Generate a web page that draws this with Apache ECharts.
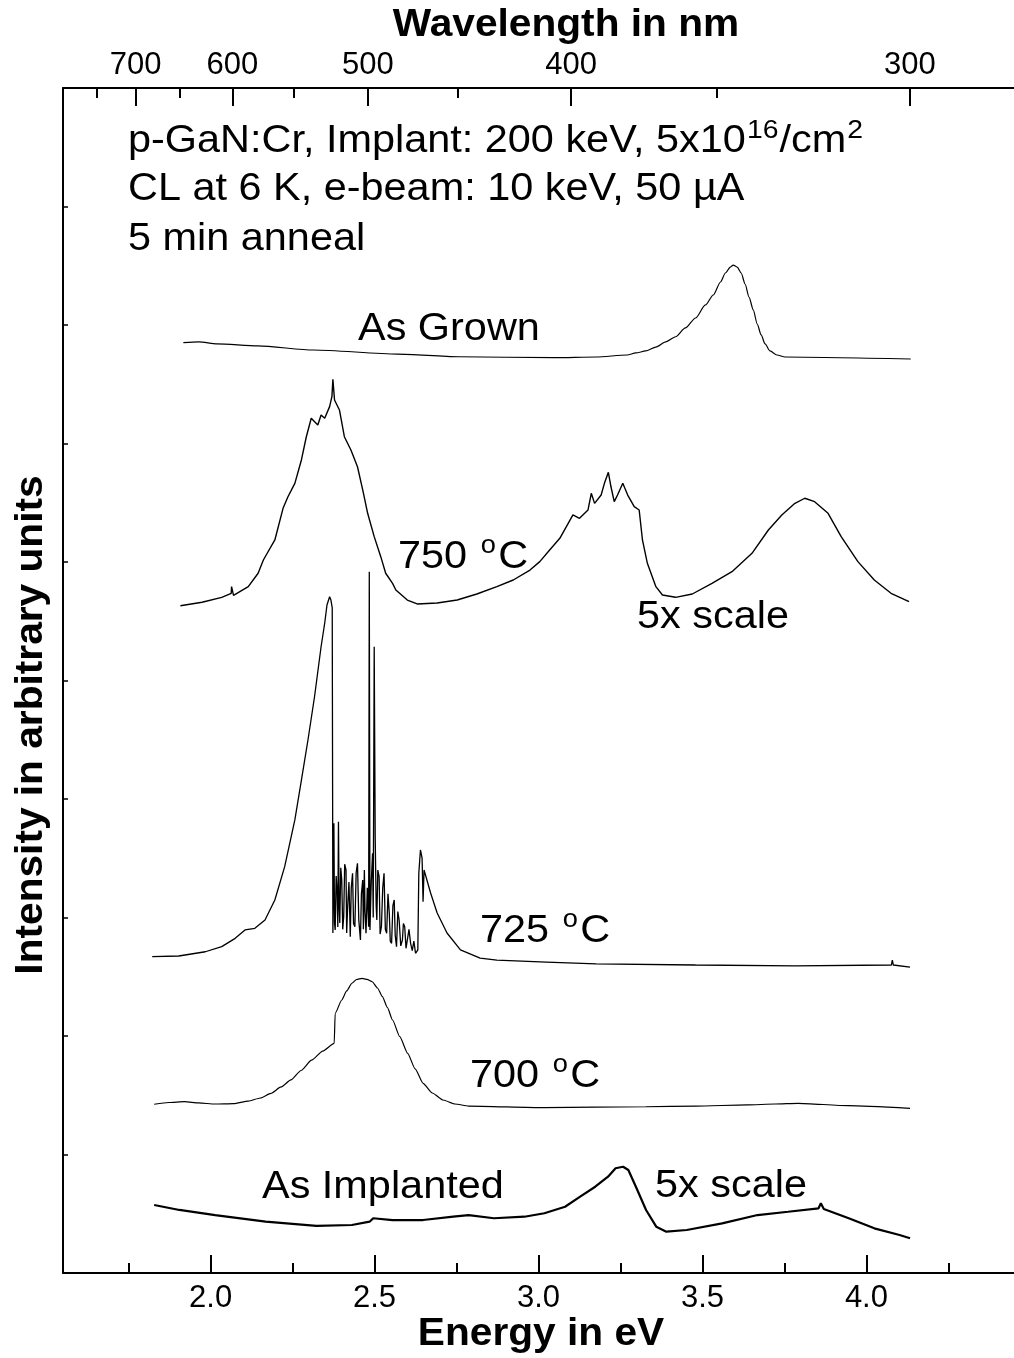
<!DOCTYPE html>
<html>
<head>
<meta charset="utf-8">
<script src="https://cdn.jsdelivr.net/npm/echarts@6/dist/echarts.min.js"></script>
<style>
html,body{margin:0;padding:0;background:#fff;}
#c{width:1014px;height:1358px;}
</style>
</head>
<body>
<div id="c"></div>
<script>
// ---- tick labels ----
const energyMajor = [2.0, 2.5, 3.0, 3.5, 4.0];
const energyMinor = [1.75, 2.25, 2.75, 3.25, 3.75, 4.25];
const wavelengthMajor = [700, 600, 500, 400, 300];
const wavelengthMinor = [750, 650, 550, 450, 350];

// ---- series: [energy eV, intensity (arb. units)] ----
const asGrown = [[1.917,7.851],[1.964,7.857],[2.020,7.840],[2.145,7.823],[2.314,7.789],[2.570,7.755],[2.755,7.732],[3.048,7.724],[3.176,7.730],[3.270,7.747],[3.297,7.764],[3.327,7.781],[3.358,7.814],[3.388,7.857],[3.418,7.901],[3.448,7.975],[3.479,8.059],[3.509,8.169],[3.533,8.253],[3.555,8.363],[3.570,8.439],[3.585,8.489],[3.594,8.506],[3.606,8.489],[3.618,8.439],[3.630,8.346],[3.642,8.236],[3.655,8.127],[3.667,8.008],[3.679,7.916],[3.691,7.840],[3.706,7.781],[3.727,7.747],[3.752,7.730],[4.135,7.713]];

const anneal750 = [[1.908,5.631],[1.974,5.660],[2.034,5.702],[2.063,5.736],[2.064,5.792],[2.070,5.719],[2.115,5.792],[2.145,5.905],[2.161,6.017],[2.196,6.186],[2.221,6.453],[2.236,6.551],[2.257,6.664],[2.277,6.861],[2.292,7.057],[2.307,7.213],[2.327,7.156],[2.337,7.241],[2.348,7.213],[2.363,7.311],[2.370,7.395],[2.373,7.542],[2.378,7.367],[2.393,7.283],[2.408,7.057],[2.428,6.945],[2.448,6.804],[2.464,6.608],[2.479,6.411],[2.499,6.214],[2.519,6.045],[2.534,5.905],[2.555,5.820],[2.565,5.764],[2.600,5.679],[2.630,5.646],[2.691,5.654],[2.752,5.679],[2.812,5.730],[2.873,5.792],[2.923,5.848],[2.974,5.932],[3.004,6.003],[3.034,6.101],[3.065,6.200],[3.105,6.397],[3.125,6.369],[3.151,6.439],[3.161,6.580],[3.171,6.495],[3.191,6.565],[3.201,6.664],[3.213,6.757],[3.221,6.635],[3.231,6.509],[3.241,6.565],[3.257,6.664],[3.272,6.565],[3.292,6.467],[3.307,6.439],[3.317,6.186],[3.332,5.989],[3.358,5.792],[3.378,5.722],[3.418,5.702],[3.469,5.730],[3.529,5.820],[3.590,5.918],[3.651,6.073],[3.701,6.270],[3.742,6.397],[3.782,6.495],[3.812,6.538],[3.842,6.509],[3.883,6.411],[3.923,6.214],[3.974,6.003],[4.024,5.848],[4.075,5.736],[4.130,5.665]];

const anneal725 = [[1.822,2.669],[1.903,2.675],[1.984,2.711],[2.034,2.754],[2.075,2.824],[2.105,2.895],[2.135,2.909],[2.166,2.979],[2.196,3.148],[2.226,3.429],[2.257,3.823],[2.277,4.160],[2.297,4.498],[2.317,4.863],[2.337,5.285],[2.348,5.483],[2.355,5.637],[2.363,5.707],[2.367,5.679],[2.371,5.612],
[2.373,2.869],[2.376,3.795],[2.378,2.950],[2.380,2.895],[2.383,3.350],[2.386,3.207],[2.388,2.920],[2.390,3.808],[2.392,3.100],[2.394,2.954],[2.397,3.420],[2.400,3.316],[2.403,2.900],[2.406,3.007],[2.409,3.450],[2.413,3.401],[2.415,2.870],[2.418,3.091],[2.422,3.300],[2.426,2.838],[2.429,3.250],[2.433,3.373],[2.436,2.950],[2.440,2.922],[2.444,3.380],[2.448,3.457],[2.452,2.980],[2.457,2.810],[2.460,3.200],[2.464,3.316],[2.466,2.900],[2.469,3.401],[2.471,3.050],[2.474,2.867],[2.478,3.250],[2.482,2.922],[2.484,5.918],[2.486,2.895],[2.490,3.300],[2.494,3.542],[2.496,3.000],[2.499,5.285],[2.502,3.682],[2.505,3.100],[2.507,2.979],[2.510,3.400],[2.514,3.344],[2.517,2.860],[2.521,2.922],[2.525,3.250],[2.529,3.373],[2.533,2.900],[2.537,2.867],[2.541,3.200],[2.545,3.035],[2.548,2.800],[2.552,2.782],[2.556,3.100],[2.560,3.148],[2.563,2.850],[2.567,2.754],[2.571,3.050],[2.575,2.979],[2.580,2.760],[2.585,2.810],[2.588,2.950],[2.592,2.922],[2.596,2.740],[2.600,2.754],[2.605,2.900],[2.610,2.782],[2.615,2.720],[2.620,2.800],[2.625,2.698],[2.632,2.726],
[2.635,3.373],[2.640,3.570],[2.645,3.502],[2.648,3.133],[2.651,3.401],[2.671,3.207],[2.691,3.038],[2.721,2.869],[2.762,2.726],[2.822,2.658],[2.873,2.641],[3.024,2.624],[3.176,2.608],[3.479,2.599],[3.782,2.591],[4.076,2.599],[4.079,2.641],[4.082,2.599],[4.133,2.582]];

const anneal700 = [[1.828,1.424],[1.873,1.439],[1.921,1.446],[1.964,1.435],[2.014,1.426],[2.070,1.430],[2.115,1.451],[2.152,1.477],[2.184,1.516],[2.215,1.570],[2.245,1.629],[2.276,1.709],[2.308,1.797],[2.342,1.873],[2.377,1.938],[2.380,2.192],[2.400,2.304],[2.415,2.380],[2.431,2.445],[2.445,2.477],[2.462,2.487],[2.477,2.478],[2.493,2.458],[2.509,2.405],[2.524,2.332],[2.539,2.241],[2.555,2.135],[2.577,1.994],[2.601,1.854],[2.624,1.722],[2.648,1.601],[2.676,1.519],[2.709,1.460],[2.745,1.426],[2.787,1.409],[3.018,1.395],[3.327,1.403],[3.479,1.409],[3.636,1.418],[3.721,1.426],[3.791,1.432],[3.945,1.412],[4.133,1.390]];

const asImplanted = [[1.828,0.574],[1.905,0.532],[2.014,0.489],[2.168,0.433],[2.323,0.397],[2.431,0.405],[2.485,0.433],[2.496,0.462],[2.555,0.447],[2.648,0.447],[2.740,0.475],[2.787,0.489],[2.864,0.462],[2.957,0.475],[3.018,0.504],[3.081,0.559],[3.127,0.644],[3.173,0.728],[3.212,0.813],[3.235,0.884],[3.258,0.897],[3.274,0.869],[3.297,0.728],[3.328,0.532],[3.359,0.391],[3.390,0.349],[3.452,0.363],[3.560,0.419],[3.668,0.489],[3.761,0.517],[3.854,0.546],[3.861,0.588],[3.870,0.540],[3.946,0.462],[4.024,0.377],[4.101,0.321],[4.133,0.293]];

const HC = 1239.84;
const FONT = '"Liberation Sans", Arial, Helvetica, sans-serif';
const X_MIN = 1.55, X_MAX = 4.45;

const chart = echarts.init(document.getElementById('c'), null, {renderer: 'canvas'});

function lineSeries(data, w, smooth) {
  return {
    type: 'line', data: data, showSymbol: false, symbol: 'none',
    smooth: smooth || false, smoothMonotone: 'x',
    lineStyle: {color: '#000', width: w}, xAxisIndex: 0, yAxisIndex: 0,
    silent: true, animation: false
  };
}

const annFont = 38, supFont = 26, SX = 1.09;
function richText(x, y, text) {
  return {
    type: 'text', x: x, y: y, scaleX: SX, silent: true,
    style: {
      text: text, textVerticalAlign: 'middle', textAlign: 'left',
      fill: '#000',
      rich: {
        m: {fontSize: annFont, fontFamily: FONT, lineHeight: 48, fill: '#000'},
        s: {fontSize: supFont, fontFamily: FONT, lineHeight: 26, verticalAlign: 'top', fill: '#000', padding: [0, 1, 0, 1]},
        o: {fontSize: 25, fontFamily: FONT, lineHeight: 1, verticalAlign: 'top', fill: '#000', padding: [0, 2, 0, 2]}
      }
    }
  };
}
function title(x, y, text, rot) {
  return {type: 'text', x: x, y: y, rotation: rot || 0, scaleX: 1.07, silent: true,
    style: {text: text, font: 'bold 38px ' + FONT, textAlign: 'center', textVerticalAlign: 'middle', fill: '#000'}};
}

const option = {
  animation: false,
  backgroundColor: '#fff',
  grid: {left: 63, top: 88, width: (X_MAX - X_MIN) * 330, height: 1185, containLabel: false},
  xAxis: [
    {
      type: 'value', position: 'bottom', min: X_MIN, max: X_MAX,
      axisLine: {show: true, lineStyle: {color: '#000', width: 2}},
      axisTick: {show: true, inside: true, length: 18, lineStyle: {color: '#000', width: 2}, customValues: energyMajor},
      axisLabel: {show: true, customValues: energyMajor, margin: 10, fontSize: 31, fontFamily: FONT, color: '#000',
        formatter: v => v.toFixed(1)},
      splitLine: {show: false}
    },
    {
      type: 'value', position: 'bottom', min: X_MIN, max: X_MAX,
      axisLine: {show: false},
      axisTick: {show: true, inside: true, length: 10, lineStyle: {color: '#000', width: 2}, customValues: energyMinor},
      axisLabel: {show: false}, splitLine: {show: false}
    },
    {
      type: 'value', position: 'top', min: X_MIN, max: X_MAX,
      axisLine: {show: true, lineStyle: {color: '#000', width: 2}},
      axisTick: {show: true, inside: true, length: 18, lineStyle: {color: '#000', width: 2},
        customValues: wavelengthMajor.map(l => HC / l)},
      axisLabel: {show: true, customValues: wavelengthMajor.map(l => HC / l), margin: 7, fontSize: 31, fontFamily: FONT, color: '#000',
        formatter: v => String(Math.round(HC / v))},
      splitLine: {show: false}
    },
    {
      type: 'value', position: 'top', min: X_MIN, max: X_MAX,
      axisLine: {show: false},
      axisTick: {show: true, inside: true, length: 10, lineStyle: {color: '#000', width: 2},
        customValues: wavelengthMinor.map(l => HC / l)},
      axisLabel: {show: false}, splitLine: {show: false}
    }
  ],
  yAxis: [{
    type: 'value', min: 0, max: 10, interval: 1,
    axisLine: {show: true, lineStyle: {color: '#000', width: 2}},
    axisTick: {show: true, inside: true, length: 5, lineStyle: {color: '#000', width: 1.5}},
    axisLabel: {show: false}, splitLine: {show: false}
  }],
  series: [
    lineSeries(asGrown, 1.2, 0.25),
    lineSeries(anneal750, 1.4, false),
    lineSeries(anneal725, 1.3, false),
    lineSeries(anneal700, 1.2, 0.2),
    lineSeries(asImplanted, 2.2, false)
  ],
  graphic: [
    title(566, 26, 'Wavelength in nm'),
    title(541, 1335, 'Energy in eV'),
    title(32, 725, 'Intensity in arbitrary units', Math.PI / 2),
    richText(128, 142, '{m|p-GaN:Cr, Implant: 200 keV, 5x10}{s|16}{m|/cm}{s|2}'),
    richText(128, 190, '{m|CL at 6 K, e-beam: 10 keV, 50 µA}'),
    richText(128, 240, '{m|5 min anneal}'),
    richText(358, 330, '{m|As Grown}'),
    richText(398, 558, '{m|750 }{o|o}{m|C}'),
    richText(637, 618, '{m|5x scale}'),
    richText(480, 932, '{m|725 }{o|o}{m|C}'),
    richText(470, 1077, '{m|700 }{o|o}{m|C}'),
    richText(262, 1188, '{m|As Implanted}'),
    richText(655, 1187, '{m|5x scale}')
  ]
};
chart.setOption(option);
</script>
</body>
</html>
